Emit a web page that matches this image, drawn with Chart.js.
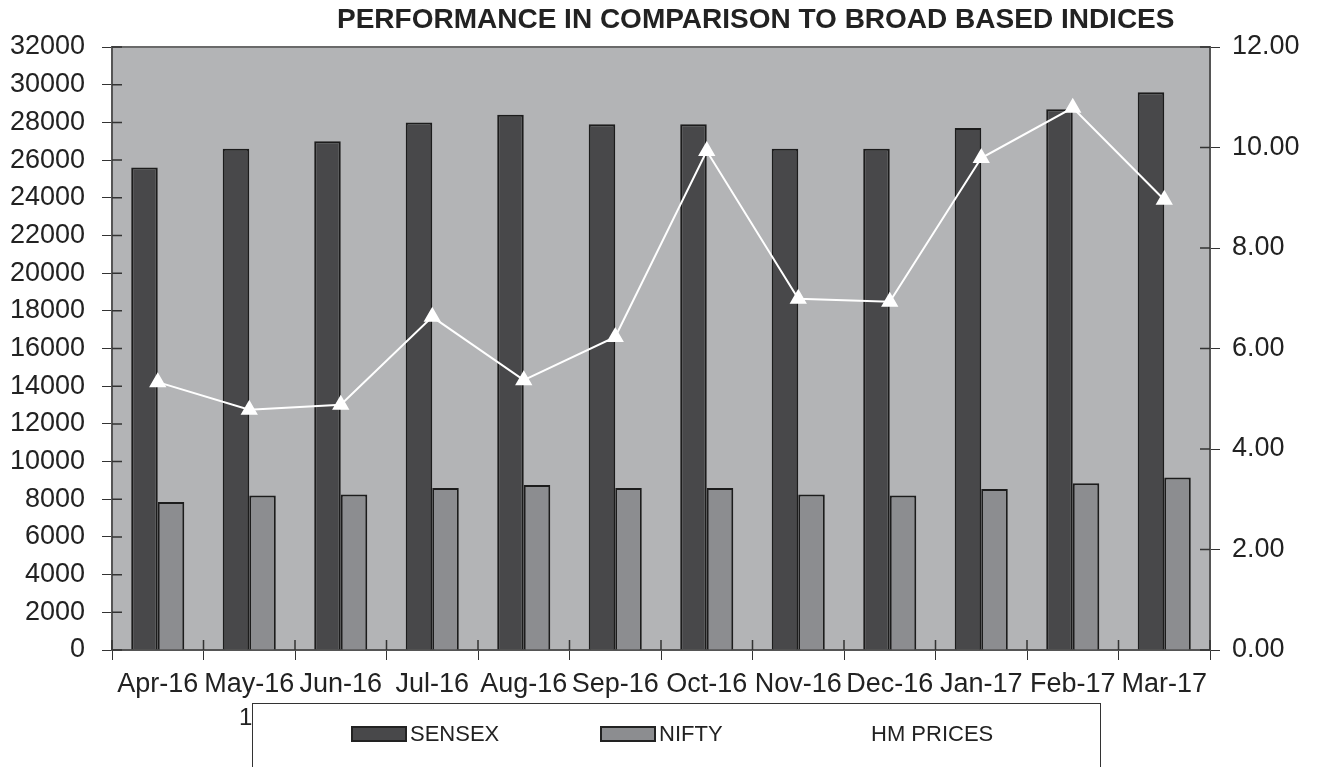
<!DOCTYPE html>
<html>
<head>
<meta charset="utf-8">
<script src="https://cdn.jsdelivr.net/npm/chart.js@4/dist/chart.umd.min.js"></script>
<style>
  body { margin: 0; background: #fff; font-family: 'Liberation Sans', Arial, sans-serif; }
  .wrap { position: relative; width: 1321px; height: 767px; overflow: hidden; }
  .title { position: absolute; left: 337px; top: 3px; font-size: 28px; font-weight: bold; color: #222; white-space: nowrap; }
  .legend { position: absolute; left: 252px; top: 703px; width: 847px; height: 90px; border: 1px solid #333; border-bottom: none; }
  .legend-item { position: absolute; top: 17px; font-size: 22px; color: #222; display: flex; align-items: center; }
  .legend-item span.box { display: inline-block; width: 52px; height: 12px; border: 2px solid #222; margin-right: 3px; }
  .stray { position: absolute; left: 239px; top: 703px; font-size: 24px; color: #222; }
</style>
</head>
<body>
<div class="wrap">
  <canvas id="chart" width="1321" height="767"></canvas>
  <div class="title">PERFORMANCE IN COMPARISON TO BROAD BASED INDICES</div>
  <div class="stray">1</div>
  <div class="legend" id="legend"></div>
</div>
<script>
const months = ['Apr-16', 'May-16', 'Jun-16', 'Jul-16', 'Aug-16', 'Sep-16', 'Oct-16', 'Nov-16', 'Dec-16', 'Jan-17', 'Feb-17', 'Mar-17'];
const sensex = [25600, 26600, 27000, 28000, 28400, 27900, 27900, 26600, 26600, 27700, 28700, 29600];
const nifty = [7850, 8200, 8250, 8600, 8750, 8600, 8600, 8250, 8200, 8550, 8850, 9150];
const hmPrices = [5.33, 4.78, 4.88, 6.63, 5.37, 6.23, 9.93, 6.99, 6.93, 9.79, 10.79, 8.96];

const plotBg = {
  id: 'plotBg',
  beforeDraw(chart) {
    const { ctx, chartArea } = chart;
    ctx.save();
    ctx.fillStyle = '#b3b4b6';
    ctx.fillRect(chartArea.left, chartArea.top, chartArea.width, chartArea.height);
    ctx.strokeStyle = '#6a6a6a';
    ctx.lineWidth = 2;
    ctx.beginPath();
    ctx.moveTo(chartArea.left, chartArea.top);
    ctx.lineTo(chartArea.right, chartArea.top);
    ctx.stroke();
    ctx.restore();
  },
};

// tick marks that also reach into the plot, like the original
const innerTicks = {
  id: 'innerTicks',
  afterDraw(chart) {
    const { ctx, chartArea, scales } = chart;
    ctx.save();
    ctx.strokeStyle = '#333';
    ctx.lineWidth = 1.5;
    ctx.beginPath();
    scales.y.ticks.forEach((t, i) => {
      const py = scales.y.getPixelForTick(i);
      ctx.moveTo(chartArea.left, py);
      ctx.lineTo(chartArea.left + 10, py);
    });
    scales.y1.ticks.forEach((t, i) => {
      const py = scales.y1.getPixelForTick(i);
      ctx.moveTo(chartArea.right, py);
      ctx.lineTo(chartArea.right - 10, py);
    });
    for (let i = 0; i <= months.length; i++) {
      const px = chartArea.left + (chartArea.width * i) / months.length;
      ctx.moveTo(px, chartArea.bottom);
      ctx.lineTo(px, chartArea.bottom - 10);
    }
    ctx.stroke();
    ctx.restore();
  },
};

const tickFont = { family: "'Liberation Sans', Arial, sans-serif", size: 27 };

const config = {
  type: 'bar',
  data: {
    labels: months,
    datasets: [
      {
        type: 'line',
        label: 'HM PRICES',
        data: hmPrices,
        yAxisID: 'y1',
        borderColor: '#ffffff',
        borderWidth: 2,
        pointStyle: 'triangle',
        pointRadius: 8,
        pointBackgroundColor: '#ffffff',
        pointBorderColor: '#ffffff',
        tension: 0,
        order: 0,
      },
      {
        label: 'SENSEX',
        data: sensex,
        yAxisID: 'y',
        backgroundColor: '#48484a',
        borderColor: '#1c1c1c',
        borderWidth: 2,
        order: 1,
      },
      {
        label: 'NIFTY',
        data: nifty,
        yAxisID: 'y',
        backgroundColor: '#8c8d90',
        borderColor: '#1c1c1c',
        borderWidth: 2,
        order: 1,
      },
    ],
  },
  options: {
    responsive: false,
    animation: false,
    layout: { padding: { top: 47, bottom: 0, left: 0, right: 0 } },
    datasets: {
      bar: { categoryPercentage: 0.58, barPercentage: 1.0 },
    },
    plugins: {
      legend: { display: false },
      title: { display: false },
      tooltip: { enabled: false },
    },
    scales: {
      x: {
        grid: { drawOnChartArea: false, color: '#333', tickLength: 10, offset: true },
        border: { color: '#555', width: 2 },
        ticks: { color: '#222', font: tickFont, padding: 8, maxRotation: 0, autoSkip: false },
        afterFit(scale) { scale.height = 117; },
      },
      y: {
        position: 'left',
        min: 0,
        max: 32000,
        ticks: { stepSize: 2000, color: '#222', font: tickFont, padding: 17, callback: (v) => String(v) },
        grid: { drawOnChartArea: false, color: '#333', tickLength: 10 },
        border: { color: '#555', width: 2 },
        afterFit(scale) { scale.width = 112; },
      },
      y1: {
        position: 'right',
        min: 0,
        max: 12,
        ticks: { stepSize: 2, color: '#222', font: tickFont, padding: 12, callback: (v) => v.toFixed(2) },
        grid: { drawOnChartArea: false, color: '#333', tickLength: 10 },
        border: { color: '#555', width: 2 },
        afterFit(scale) { scale.width = 111; },
      },
    },
  },
  plugins: [plotBg, innerTicks],
};

new Chart(document.getElementById('chart'), config);

// legend below the chart, built from the dataset labels
const legendEl = document.getElementById('legend');
const legendItems = [
  { label: config.data.datasets[1].label, color: '#48484a', left: 98 },
  { label: config.data.datasets[2].label, color: '#8c8d90', left: 347 },
  { label: config.data.datasets[0].label, color: null, left: 618 },
];
legendEl.innerHTML = legendItems
  .map(
    (item) => `
      <div class="legend-item" style="left:${item.left}px">
        ${item.color ? `<span class="box" style="background:${item.color}"></span>` : ''}${item.label}
      </div>`
  )
  .join('');
</script>
</body>
</html>
